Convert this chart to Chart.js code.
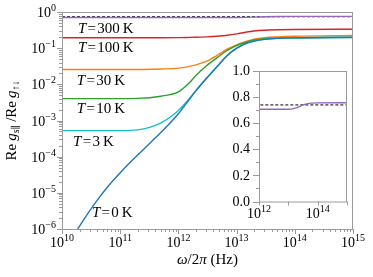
<!DOCTYPE html>
<html>
<head>
<meta charset="utf-8">
<script src="https://cdn.jsdelivr.net/npm/chart.js@4/dist/chart.umd.min.js"></script>
<style>
html, body { margin: 0; padding: 0; background: #fff; }
#wrap { position: relative; width: 373px; height: 277px; }
#main { position: absolute; left: 0; top: 0; }
#inset { position: absolute; left: 220px; top: 58px; }
</style>
</head>
<body>
<div id="wrap">
<canvas id="main" width="373" height="277"></canvas>
<canvas id="inset" width="140" height="170"></canvas>
</div>
<script>
// frequency grid (Hz) shared by the finite-T curves
const freqs = [1e10, 2e10, 5e10, 1e11, 2e11, 5e11, 1e12, 1.5e12, 2e12, 3e12, 5e12, 7e12, 1e13, 1.5e13, 2e13, 3e13, 5e13, 1e14, 1e15];

// Re g_s|| / Re g_updown
const g300K = [0.707, 0.707, 0.707, 0.707, 0.707, 0.707, 0.707, 0.707, 0.707, 0.707, 0.707, 0.707, 0.707, 0.712, 0.72, 0.738, 0.752, 0.756, 0.757];
const g100K = [0.195, 0.195, 0.195, 0.195, 0.195, 0.195, 0.196, 0.198, 0.2, 0.205, 0.216, 0.228, 0.248, 0.28, 0.298, 0.313, 0.322, 0.328, 0.333];
const g30K  = [0.0257, 0.0257, 0.0257, 0.0257, 0.0257, 0.0265, 0.028, 0.031, 0.0345, 0.043, 0.068, 0.095, 0.124, 0.155, 0.178, 0.195, 0.205, 0.213, 0.225];
const g10K  = [0.00403, 0.00403, 0.00403, 0.00403, 0.00408, 0.0047, 0.0062, 0.0105, 0.0175, 0.032, 0.06, 0.088, 0.118, 0.148, 0.168, 0.183, 0.191, 0.195, 0.2];
const g3K   = [5.25e-4, 5.25e-4, 5.25e-4, 5.25e-4, 5.5e-4, 8.6e-4, 0.0019, 0.0038, 0.0068, 0.0145, 0.036, 0.065, 0.1, 0.138, 0.158, 0.176, 0.188, 0.194, 0.199];

// T = 0 K starts inside the plot, so it has its own grid
const freq0K = [1.86e10, 2.51e10, 3.98e10, 6.31e10, 1e11, 1.58e11, 2.51e11, 3.98e11, 6.31e11, 1e12, 1.5e12, 2e12, 3e12, 5e12, 7e12, 1e13, 1.5e13, 2e13, 3e13, 5e13, 1e14, 1e15];
const g0K    = [1e-6, 2.11e-6, 6.1e-6, 1.57e-5, 3.59e-5, 7.67e-5, 1.58e-4, 3.27e-4, 6.82e-4, 1.53e-3, 3.63e-3, 6.6e-3, 0.0142, 0.0355, 0.064, 0.099, 0.137, 0.157, 0.175, 0.187, 0.193, 0.198];

// dashed reference level
const freqRef = [1e10, 1e15];
const gRef = [0.74, 0.74];

// curve labels: text and where they sit (data coords)
const labelTexts = ['300', '100', '30', '10', '3', '0'];
const labelFreq  = [1.88e10, 1.88e10, 1.8e10, 1.8e10, 1.55e10, 3.27e10];
const labelG     = [0.355, 0.11, 0.0132, 0.00228, 2.74e-4, 3.0e-6];

const mainTicksY = [-6, -5, -4, -3, -2, -1, 0];
const mainTicksX = [10, 11, 12, 13, 14, 15];
const insetTicksY = [0, 0.2, 0.4, 0.6, 0.8, 1.0];
const insetTicksX = [12, 13, 14, 15];
const insetLabelsX = [12, 14];

const SERIF = '"Liberation Serif", "DejaVu Serif", serif';
const AXIS = '#9a9a9a';

function pts(xs, ys) {
  return xs.map((x, i) => ({ x: x, y: ys[i] }));
}

function line(data, color, extra) {
  return Object.assign({
    data: data,
    borderColor: color,
    borderWidth: 1.4,
    pointRadius: 0,
    fill: false,
    cubicInterpolationMode: 'monotone'
  }, extra || {});
}

function pow10Label(ctx, exp, x, y, align) {
  const base = '10';
  const sup = exp < 0 ? '\u2212' + (-exp) : String(exp);
  ctx.font = '14px ' + SERIF;
  const wb = ctx.measureText(base).width;
  ctx.font = '10px ' + SERIF;
  const ws = ctx.measureText(sup).width;
  const x0 = align === 'center' ? x - (wb + ws) / 2 : x - (wb + ws);
  ctx.textAlign = 'left';
  ctx.textBaseline = 'alphabetic';
  ctx.fillStyle = '#000';
  ctx.font = '14px ' + SERIF;
  ctx.fillText(base, x0, y);
  ctx.font = '10px ' + SERIF;
  ctx.fillText(sup, x0 + wb, y - 6);
}

// draw pieces [text, font, dy] one after the other
function drawRun(ctx, parts, x, y, align) {
  let total = 0;
  parts.forEach(p => { ctx.font = p[1]; total += ctx.measureText(p[0]).width; });
  let cx = align === 'center' ? x - total / 2 : x;
  ctx.textAlign = 'left';
  ctx.textBaseline = 'alphabetic';
  ctx.fillStyle = '#000';
  parts.forEach(p => {
    ctx.font = p[1];
    ctx.fillText(p[0], cx, y + (p[2] || 0));
    cx += ctx.measureText(p[0]).width;
  });
}

const mainDecor = {
  id: 'mainDecor',
  afterDraw(chart) {
    const ctx = chart.ctx;
    const a = chart.chartArea;
    const xs = chart.scales.x, ys = chart.scales.y;
    ctx.save();
    ctx.strokeStyle = AXIS;
    ctx.lineWidth = 1;
    ctx.strokeRect(a.left + 0.5, a.top + 0.5, a.right - a.left - 1, a.bottom - a.top);

    ctx.beginPath();
    mainTicksX.forEach(e => {
      const px = Math.round(xs.getPixelForValue(Math.pow(10, e))) + 0.5;
      ctx.moveTo(px, a.bottom); ctx.lineTo(px, a.bottom + 5);
      if (e < 15) {
        for (let m = 2; m <= 9; m++) {
          const q = Math.round(xs.getPixelForValue(m * Math.pow(10, e))) + 0.5;
          ctx.moveTo(q, a.bottom); ctx.lineTo(q, a.bottom + 3);
        }
      }
    });
    mainTicksY.forEach(e => {
      const py = Math.round(ys.getPixelForValue(Math.pow(10, e))) + 0.5;
      ctx.moveTo(a.left, py); ctx.lineTo(a.left - 5, py);
      if (e < 0) {
        for (let m = 2; m <= 9; m++) {
          const q = Math.round(ys.getPixelForValue(m * Math.pow(10, e))) + 0.5;
          ctx.moveTo(a.left, q); ctx.lineTo(a.left - 3, q);
        }
      }
    });
    ctx.stroke();

    mainTicksX.forEach(e => {
      pow10Label(ctx, e, xs.getPixelForValue(Math.pow(10, e)), a.bottom + 18, 'center');
    });
    mainTicksY.forEach(e => {
      pow10Label(ctx, e, a.left - 6, ys.getPixelForValue(Math.pow(10, e)) + 5, 'right');
    });

    // curve labels
    const it = 'italic 15px ' + SERIF, rm = '15px ' + SERIF;
    labelTexts.forEach((t, i) => {
      drawRun(ctx, [['T', it], ['\u200A=\u200A' + t + '\u2009K', rm]],
        xs.getPixelForValue(labelFreq[i]), ys.getPixelForValue(labelG[i]) + 5, 'left');
    });

    // x title
    drawRun(ctx, [['\u03c9', it], ['/2', rm], ['\u03c0', it], [' (Hz)', rm]],
      (a.left + a.right) / 2, 264, 'center');

    // y title, rotated
    ctx.translate(16, (a.top + a.bottom) / 2);
    ctx.rotate(-Math.PI / 2);
    const sub = '10px ' + SERIF, subi = 'italic 10px ' + SERIF;
    drawRun(ctx, [['Re\u2009', rm], ['g', it], ['s', subi, 3], ['\u2225', sub, 3],
      ['\u2009/Re\u2009', rm], ['g', it], ['\u2191\u2193', sub, 3]], 0, 0, 'center');
    ctx.restore();
  }
};

const insetDecor = {
  id: 'insetDecor',
  afterDraw(chart) {
    const ctx = chart.ctx;
    const a = chart.chartArea;
    const xs = chart.scales.x, ys = chart.scales.y;
    ctx.save();
    ctx.strokeStyle = AXIS;
    ctx.lineWidth = 1;
    ctx.strokeRect(a.left + 0.5, a.top + 0.5, a.right - a.left - 1, a.bottom - a.top);
    ctx.beginPath();
    insetTicksX.forEach(e => {
      const px = Math.round(xs.getPixelForValue(Math.pow(10, e))) + 0.5;
      ctx.moveTo(px, a.bottom); ctx.lineTo(px, a.bottom + 4);
    });
    for (let k = 0; k <= 10; k++) {
      const py = Math.round(ys.getPixelForValue(k / 10)) + 0.5;
      ctx.moveTo(a.left, py); ctx.lineTo(a.left - (k % 2 === 0 ? 6 : 3), py);
    }
    ctx.stroke();
    insetLabelsX.forEach(e => {
      pow10Label(ctx, e, xs.getPixelForValue(Math.pow(10, e)), a.bottom + 16, 'center');
    });
    ctx.font = '14px ' + SERIF;
    ctx.fillStyle = '#000';
    ctx.textAlign = 'right';
    ctx.textBaseline = 'middle';
    insetTicksY.forEach(v => {
      ctx.fillText(v.toFixed(1), a.left - 9, ys.getPixelForValue(v) + 0.5);
    });
    ctx.restore();
  }
};

new Chart(document.getElementById('main'), {
  type: 'line',
  data: {
    datasets: [
      line(pts(freq0K, g0K), '#1f77b4'),
      line(pts(freqs, g3K), '#17becf'),
      line(pts(freqs, g10K), '#2ca02c'),
      line(pts(freqs, g30K), '#ff7f0e'),
      line(pts(freqs, g100K), '#d62728'),
      line(pts(freqs, g300K), '#9467bd'),
      line(pts(freqRef, gRef), '#000', { borderWidth: 1, borderDash: [3, 2] })
    ]
  },
  options: {
    responsive: false,
    animation: false,
    layout: { padding: { left: 0, right: 20, top: 12, bottom: 0 } },
    plugins: { legend: { display: false }, tooltip: { enabled: false } },
    scales: {
      x: {
        type: 'logarithmic', min: 1e10, max: 1e15,
        grid: { display: false }, border: { display: false }, ticks: { display: false },
        afterFit: s => { s.height = 48; }
      },
      y: {
        type: 'logarithmic', min: 1e-6, max: 1,
        grid: { display: false }, border: { display: false }, ticks: { display: false },
        afterFit: s => { s.width = 62; }
      }
    }
  },
  plugins: [mainDecor]
});

new Chart(document.getElementById('inset'), {
  type: 'line',
  data: {
    datasets: [
      line(pts(freqs, g300K), '#9467bd'),
      line(pts(freqRef, gRef), '#000', { borderWidth: 1, borderDash: [3, 2] })
    ]
  },
  options: {
    responsive: false,
    animation: false,
    layout: { padding: { left: 0, right: 13, top: 13, bottom: 0 } },
    plugins: { legend: { display: false }, tooltip: { enabled: false } },
    scales: {
      x: {
        type: 'logarithmic', min: 1e12, max: 1e15,
        grid: { display: false }, border: { display: false }, ticks: { display: false },
        afterFit: s => { s.height = 26.5; }
      },
      y: {
        min: 0, max: 1,
        grid: { display: false }, border: { display: false }, ticks: { display: false },
        afterFit: s => { s.width = 39; }
      }
    }
  },
  plugins: [insetDecor]
});
</script>
</body>
</html>
